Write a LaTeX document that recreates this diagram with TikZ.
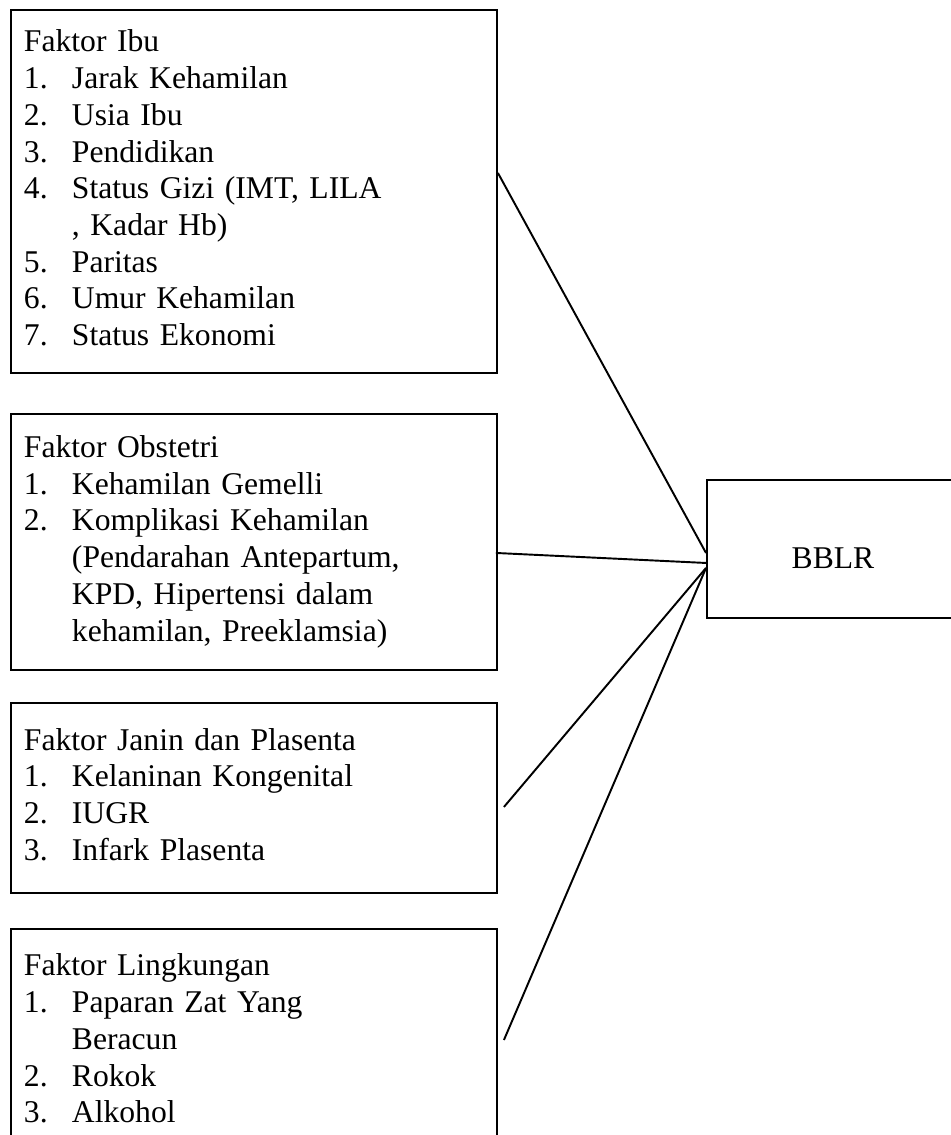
\documentclass[tikz,border=0pt]{standalone}
\usepackage{fontspec}
\setmainfont{Liberation Serif}
\usepackage{tikz}
\usetikzlibrary{positioning,calc}

\begin{document}
\begin{tikzpicture}[
    kotak/.style={draw, line width=1.1pt, anchor=north west, minimum width=9.72cm,
                  text width=9.2cm, inner xsep=0.26cm, align=left,
                  font=\fontsize{18}{20.9}\selectfont},
    hasil/.style={draw, line width=1.1pt, anchor=north west, minimum width=5.04cm,
                  minimum height=2.76cm, text height=0.8cm, text depth=0cm,
                  font=\fontsize{18}{20.9}\selectfont},
    garis/.style={line width=1.1pt}
]
                    \useasboundingbox (0,0) rectangle (19,-22.7);

                    % Faktor boxes
                    \node[kotak, minimum height=7.26cm] (ibu) at (0.2,-0.18) {%
                        \begin{tabular}{@{}p{0.96cm}@{}l@{}}
                        \multicolumn{2}{@{}l@{}}{Faktor Ibu}\\
                        1. & Jarak Kehamilan\\
                        2. & Usia Ibu\\
                        3. & Pendidikan\\
                        4. & Status Gizi (IMT, LILA\\
                           & , Kadar Hb)\\
                        5. & Paritas\\
                        6. & Umur Kehamilan\\
                        7. & Status Ekonomi
                        \end{tabular}};
                    \node[kotak, minimum height=5.12cm] (obstetri) at (0.2,-8.26) {%
                        \begin{tabular}{@{}p{0.96cm}@{}l@{}}
                        \multicolumn{2}{@{}l@{}}{Faktor Obstetri}\\
                        1. & Kehamilan Gemelli\\
                        2. & Komplikasi Kehamilan\\
                           & (Pendarahan Antepartum,\\
                           & KPD, Hipertensi dalam\\
                           & kehamilan, Preeklamsia)
                        \end{tabular}};
                    \node[kotak, minimum height=3.8cm] (janin) at (0.2,-14.04) {%
                        \begin{tabular}{@{}p{0.96cm}@{}l@{}}
                        \multicolumn{2}{@{}l@{}}{Faktor Janin dan Plasenta}\\
                        1. & Kelaninan Kongenital\\
                        2. & IUGR\\
                        3. & Infark Plasenta
                        \end{tabular}};
                    \node[kotak, minimum height=4.52cm] (lingkungan) at (0.2,-18.56) {%
                        \begin{tabular}{@{}p{0.96cm}@{}l@{}}
                        \multicolumn{2}{@{}l@{}}{Faktor Lingkungan}\\
                        1. & Paparan Zat Yang\\
                           & Beracun\\
                        2. & Rokok\\
                        3. & Alkohol
                        \end{tabular}};

                    % Outcome
                    \node[hasil] (bblr) at (14.12,-9.58) {BBLR};

                    % Lines
                    \draw[garis] ([yshift=0.37cm]ibu.east) -- ([yshift=-0.08cm]bblr.west);
                    \draw[garis] ([xshift=-0.04cm,yshift=-0.22cm]obstetri.east) -- ([yshift=-0.28cm]bblr.west);
                    \draw[garis] ([xshift=0.12cm,yshift=-0.18cm]janin.east) -- ([yshift=-0.38cm]bblr.west);
                    \draw[garis] ([xshift=0.12cm,yshift=0.04cm]lingkungan.east) -- ([yshift=-0.38cm]bblr.west);
                \end{tikzpicture}
\end{document}
